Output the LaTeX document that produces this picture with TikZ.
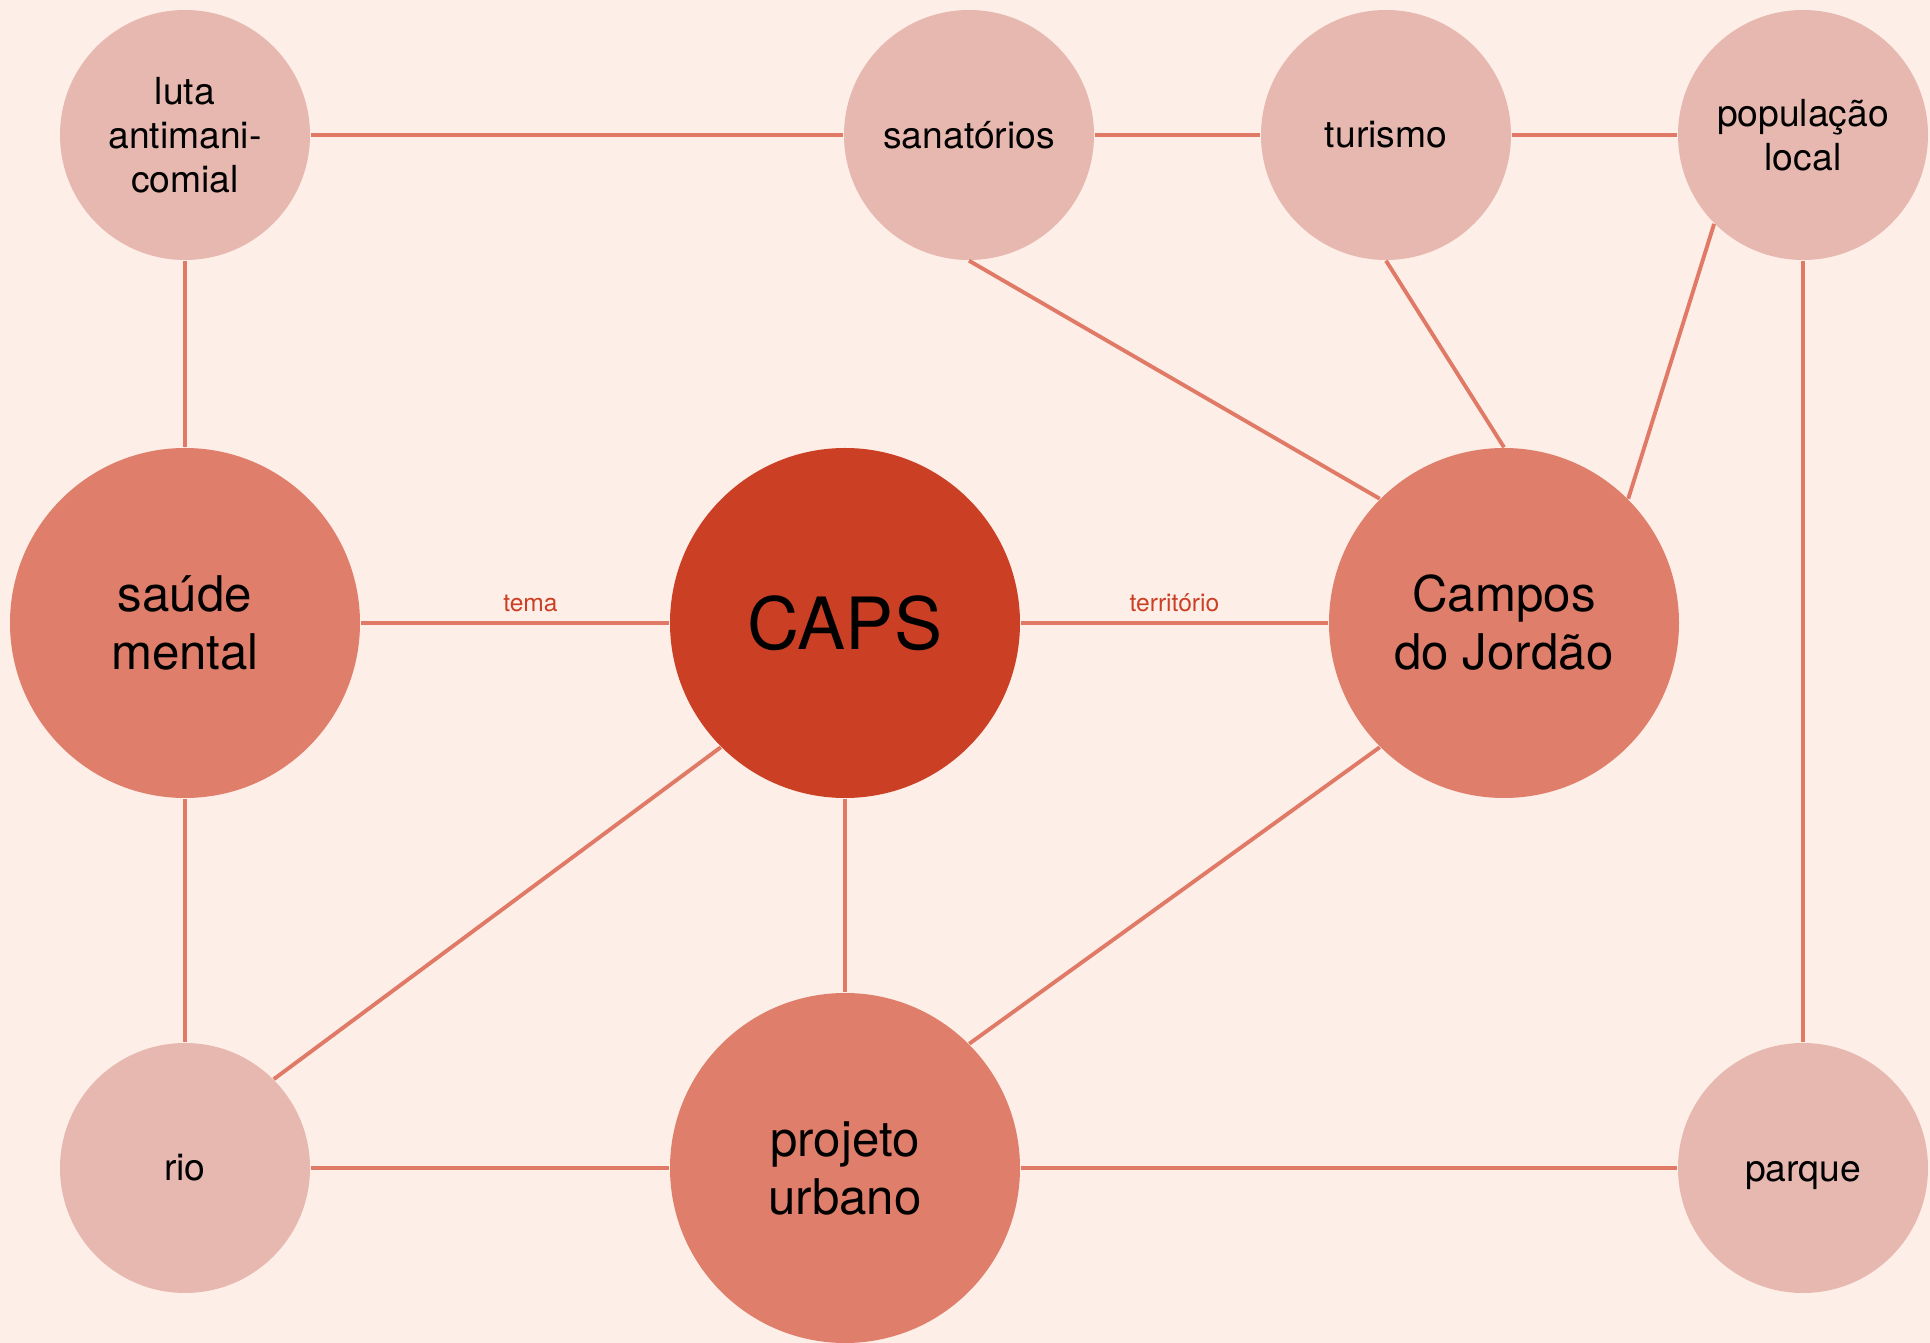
\documentclass[tikz,border=0pt]{standalone}
\usepackage{fontspec}
\setmainfont{TeX Gyre Heros}
\usetikzlibrary{positioning, backgrounds}
\definecolor{paper}{RGB}{253, 238, 231}
\definecolor{soft}{RGB}{231, 184, 175}
\definecolor{mid}{RGB}{223, 126, 107}
\definecolor{core}{RGB}{203, 64, 37}
\definecolor{link}{RGB}{224, 122, 102}

\begin{document}
\begin{tikzpicture}[
    % Global styles
    on grid,
    % Circle styles
    minor/.style={
        circle,
        minimum size=2.5cm,
        inner sep=0pt,
        fill=soft,
        align=center,
        font=\fontsize{10.6}{12.5}\selectfont
    },
    major/.style={
        circle,
        minimum size=3.5cm,
        inner sep=0pt,
        fill=mid,
        align=center,
        font=\fontsize{14}{16.5}\selectfont
    },
    hub/.style={
        major,
        fill=core,
        font=\fontsize{20.5}{24}\selectfont
    },
    edge/.style={
        line width=1.1pt,
        color=link
    },
    tag/.style={
        font=\fontsize{7}{8}\selectfont,
        text=core,
        above,
        inner sep=2.5pt
    }
]

\useasboundingbox [fill=paper] (0,0) rectangle (19.3,-13.43);

% --- Nodes ---

% Centre
\node (caps) [hub] at (8.45,-6.23) {CAPS};
\node (saude) [major, left=6.6cm of caps] {saúde\\mental};
\node (campos) [major, right=6.59cm of caps] {Campos\\do Jordão};
\node (projeto) [major, below=5.45cm of caps] {projeto\\urbano};

% Outer ring
\node (luta) [minor, above=4.88cm of saude] {luta\\antimani-\\comial};
\node (rio) [minor, below=5.45cm of saude] {rio};
\node (sanatorios) [minor, above=4.88cm of caps, xshift=1.24cm] {sanatórios};
\node (turismo) [minor, right=4.17cm of sanatorios] {turismo};
\node (populacao) [minor, right=4.17cm of turismo] {população\\local};
\node (parque) [minor, below=10.33cm of populacao, text height=7.6pt, text depth=0pt] {parque};

% --- Edges ---

% Top row
\draw [edge] (luta) -- (sanatorios);
\draw [edge] (sanatorios) -- (turismo);
\draw [edge] (turismo) -- (populacao);

% Into Campos do Jordão
\draw [edge] (sanatorios.south) -- (campos.north west);
\draw [edge] (turismo.south) -- (campos.north);
\draw [edge] (populacao.south west) -- (campos.north east);

% Middle row
\draw [edge] (saude) -- (caps) node[tag, pos=0.55] {tema};
\draw [edge] (caps) -- (campos) node[tag, midway] {território};

% Verticals
\draw [edge] (luta) -- (saude);
\draw [edge] (saude) -- (rio);
\draw [edge] (caps) -- (projeto);
\draw [edge] (populacao) -- (parque);

% Diagonals
\draw [edge] (caps.south west) -- (rio.north east);
\draw [edge] (campos.south west) -- (projeto.north east);

% Bottom row
\draw [edge] (rio) -- (projeto);
\draw [edge] (projeto) -- (parque);

\end{tikzpicture}
\end{document}
